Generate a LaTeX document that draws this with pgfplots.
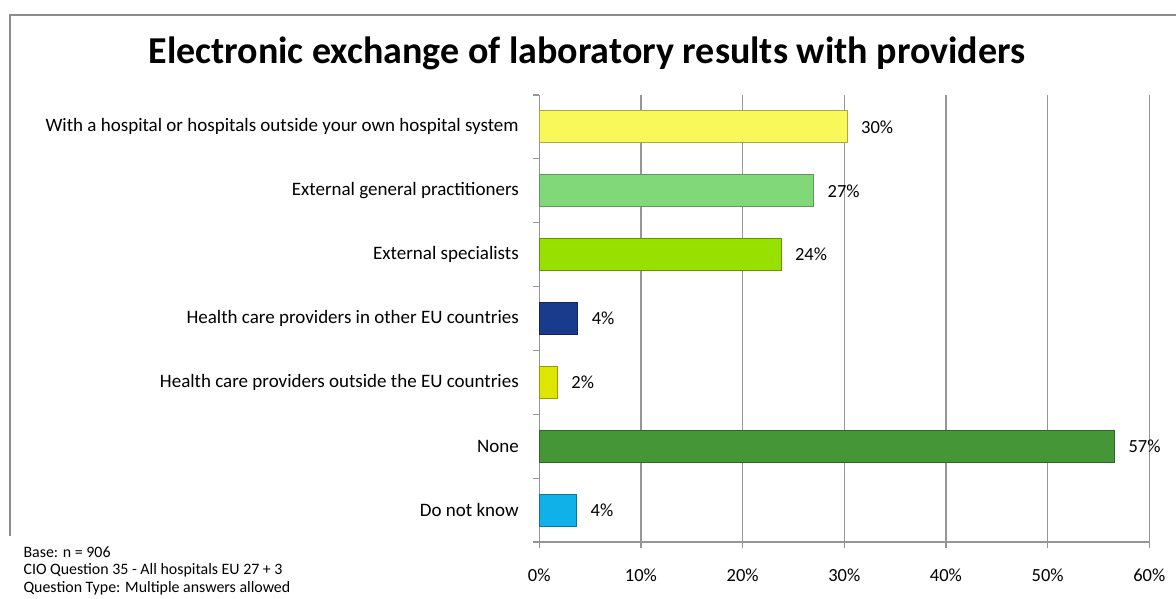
\documentclass[border=0pt]{standalone}
\usepackage{fontspec}
\setmainfont{Carlito}
\usepackage{pgfplots}
\pgfplotsset{compat=1.18}
\definecolor{gridgray}{RGB}{150,150,150}
\definecolor{framegray}{RGB}{140,140,140}
\definecolor{cA}{RGB}{248,248,90}
\definecolor{eA}{RGB}{170,170,60}
\definecolor{cB}{RGB}{128,216,120}
\definecolor{eB}{RGB}{96,150,96}
\definecolor{cC}{RGB}{152,224,0}
\definecolor{eC}{RGB}{100,150,0}
\definecolor{cD}{RGB}{26,58,140}
\definecolor{eD}{RGB}{16,36,96}
\definecolor{cE}{RGB}{222,230,0}
\definecolor{eE}{RGB}{150,156,0}
\definecolor{cF}{RGB}{69,150,55}
\definecolor{eF}{RGB}{45,105,38}
\definecolor{cG}{RGB}{16,176,232}
\definecolor{eG}{RGB}{10,118,160}
\begin{document}
\begin{tikzpicture}[x=1pt,y=1pt]
\useasboundingbox (0,0) rectangle (1176,598);
\fill[white] (0,0) rectangle (1176,598);
\draw[framegray, line width=1.3pt] (10,62) -- (10,583) -- (1176,583);
\node[font=\bfseries\fontsize{38}{44}\selectfont] at (587,545) {Electronic exchange of laboratory results with providers};
\node[anchor=west, font=\fontsize{15.9}{18}\selectfont] at (20,46) {Base: n = 906};
\node[anchor=west, font=\fontsize{15.9}{18}\selectfont] at (20,28) {CIO Question 35 - All hospitals EU 27 + 3};
\node[anchor=west, font=\fontsize{15.9}{18}\selectfont] at (20,10) {Question Type: Multiple answers allowed};
\begin{axis}[
  at={(539.3pt,56pt)}, anchor=south west,
  scale only axis, width=610pt, height=447pt,
  xmin=0, xmax=60, ymin=-0.5, ymax=6.5,
  axis lines=left,
  axis line style={-, draw=gridgray, line width=1.2pt},
  tick align=outside,
  major tick length=6pt,
  every tick/.style={draw=gridgray, line width=1.2pt},
  /pgf/number format/assume math mode=true,
  xtick={0,10,...,60},
  xticklabel={\pgfmathprintnumber{\tick}\%},
  xticklabel style={font=\fontsize{18.5}{22}\selectfont, yshift=-17pt},
  xmajorgrids,
  major grid style={draw=gridgray, line width=1.2pt},
  ytick={-0.5,0.5,...,6.5},
  yticklabel={\mbox{}},
  extra y ticks={0,1,2,3,4,5,6},
  extra y tick labels={Do not know,None,Health care providers outside the EU countries,Health care providers in other EU countries,External specialists,External general practitioners,With a hospital or hospitals outside your own hospital system},
  extra y tick style={major tick length=0pt, yticklabel style={font=\fontsize{19}{22}\selectfont, xshift=-17pt}},
  xbar, bar width=32pt, bar shift=0pt,
  point meta=x,
  nodes near coords={\pgfmathprintnumber[fixed,precision=0]{\pgfplotspointmeta}\%},
  every node near coord/.append style={font=\fontsize{18.5}{22}\selectfont, anchor=west, xshift=10pt, text=black},
  clip=false,
]
\addplot[fill=cA, draw=eA, line width=1pt] coordinates {(30.3,6)};
\addplot[fill=cB, draw=eB, line width=1pt] coordinates {(27.0,5)};
\addplot[fill=cC, draw=eC, line width=1pt] coordinates {(23.8,4)};
\addplot[fill=cD, draw=eD, line width=1pt] coordinates {(3.8,3)};
\addplot[fill=cE, draw=eE, line width=1pt] coordinates {(1.8,2)};
\addplot[fill=cF, draw=eF, line width=1pt] coordinates {(56.6,1)};
\addplot[fill=cG, draw=eG, line width=1pt] coordinates {(3.7,0)};
\end{axis}
\end{tikzpicture}
\end{document}
